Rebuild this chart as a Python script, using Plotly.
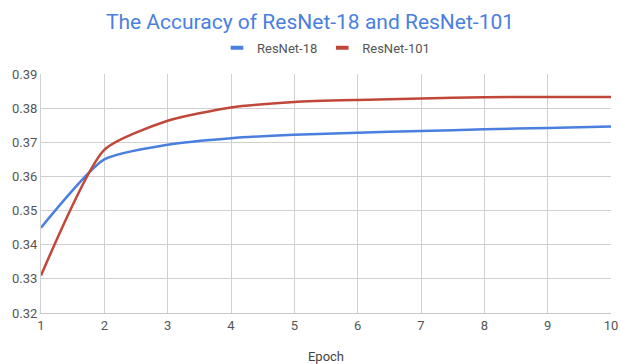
import plotly.graph_objects as go

epochs = [1, 2, 3, 4, 5, 6, 7, 8, 9, 10]
resnet18 = [0.345, 0.3650, 0.3693, 0.3712, 0.3722, 0.3728, 0.3733, 0.3738, 0.3742, 0.3746]
resnet101 = [0.331, 0.3678, 0.3763, 0.3802, 0.3818, 0.3824, 0.3828, 0.3832, 0.3833, 0.3833]
y_ticks = [0.32, 0.33, 0.34, 0.35, 0.36, 0.37, 0.38, 0.39]
series = [("ResNet-18", resnet18, "#4a7fdf"), ("ResNet-101", resnet101, "#c0473a")]

fig = go.Figure()
for name, vals, color in series:
    fig.add_trace(go.Scatter(x=epochs, y=vals, name=name, mode="lines", showlegend=False,
                             line=dict(color=color, width=2.5, shape="spline", smoothing=0.6)))
for name, vals, color in series:
    # legend-only swatch (short thick bar like the reference)
    fig.add_trace(go.Scatter(x=[None], y=[None], name=name, mode="markers",
                             marker=dict(symbol="line-ew", size=9, color=color,
                                         line=dict(color=color, width=4))))

fig.update_layout(
    width=620, height=364,
    margin=dict(l=41, r=9, t=74, b=51),
    paper_bgcolor="white", plot_bgcolor="white",
    font=dict(family="Roboto", size=13, color="#555555"),
    title=dict(text="The Accuracy of ResNet-18 and ResNet-101", x=0.5, xanchor="center",
               y=0.94, yanchor="middle", font=dict(family="Roboto", size=21, color="#4a7fdf")),
    legend=dict(orientation="h", x=0.5, xanchor="center", y=1.11, yanchor="middle",
                font=dict(size=13, color="#555555"), itemwidth=30),
    showlegend=True,
)
fig.update_xaxes(range=[1, 10], dtick=1, tick0=1, showgrid=True, gridcolor="#d0d0d0",
                 showline=True, linecolor="#c8c8c8", zeroline=False, ticks="", automargin=False,
                 title=dict(text="Epoch", standoff=22, font=dict(size=13, color="#444444")),
                 tickfont=dict(size=13, color="#555555"))
fig.update_yaxes(range=[0.32, 0.39], tickvals=y_ticks, tickformat=".2f", showgrid=True,
                 gridcolor="#d0d0d0", showline=True, linecolor="#d0d0d0", zeroline=False,
                 automargin=False, ticks="", tickfont=dict(size=13, color="#555555"))

fig.write_html("out.html")
